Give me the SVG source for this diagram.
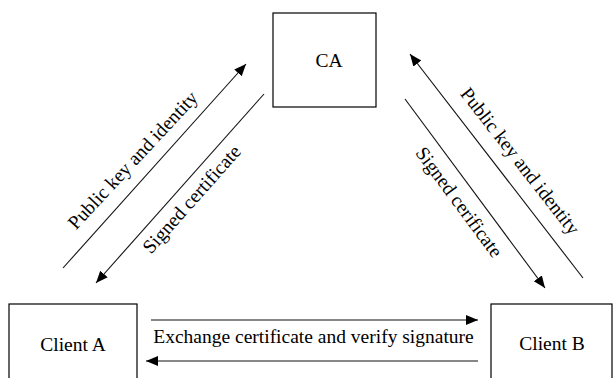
<svg xmlns="http://www.w3.org/2000/svg" width="613" height="378" viewBox="0 0 613 378">
<defs>
<style>
.box{fill:#fff;stroke:#000;stroke-width:1.2}
.lbl{font-family:"Liberation Serif","Times New Roman",serif;font-size:19.5px;fill:#000}
.c{text-anchor:middle}
.ln{stroke:#111;stroke-width:1.1;fill:none}
.arr{marker-end:url(#ah)}
</style>
<marker id="ah" markerUnits="userSpaceOnUse" markerWidth="14" markerHeight="12" refX="12" refY="5" orient="auto">
<path d="M0,0 L12,5 L0,10 Z" fill="#000"/>
</marker>
</defs>
<rect width="613" height="378" fill="#fff"/>
<g id="ca">
<rect class="box" x="273" y="13" width="103" height="94"/>
<text class="lbl c" x="329" y="67">CA</text>
</g>
<g id="client-a">
<rect class="box" x="9" y="304" width="128" height="90"/>
<text class="lbl c" x="73" y="351">Client A</text>
</g>
<g id="client-b">
<rect class="box" x="491" y="304" width="121" height="90"/>
<text class="lbl c" x="552" y="350">Client B</text>
</g>
<g id="connectors">
<line class="ln arr" x1="63" y1="268" x2="246" y2="64"/>
<line class="ln arr" x1="264" y1="94" x2="96" y2="283"/>
<line class="ln arr" x1="583" y1="278" x2="410" y2="54"/>
<line class="ln arr" x1="405" y1="99" x2="545" y2="288"/>
<line class="ln arr" x1="151" y1="320" x2="478" y2="320"/>
<line class="ln arr" x1="478" y1="361" x2="146" y2="361"/>
</g>
<g id="labels">
<text class="lbl c" transform="translate(137.5,164.5) rotate(-47)">Public key and identity</text>
<text class="lbl c" transform="translate(196.5,203.5) rotate(-48.5)">Signed certificate</text>
<text class="lbl c" transform="translate(515,165) rotate(52)">Public key and identity</text>
<text class="lbl c" transform="translate(454,206) rotate(53.5)">Signed cerificate</text>
<text class="lbl c" x="313.5" y="343">Exchange certificate and verify signature</text>
</g>
</svg>
